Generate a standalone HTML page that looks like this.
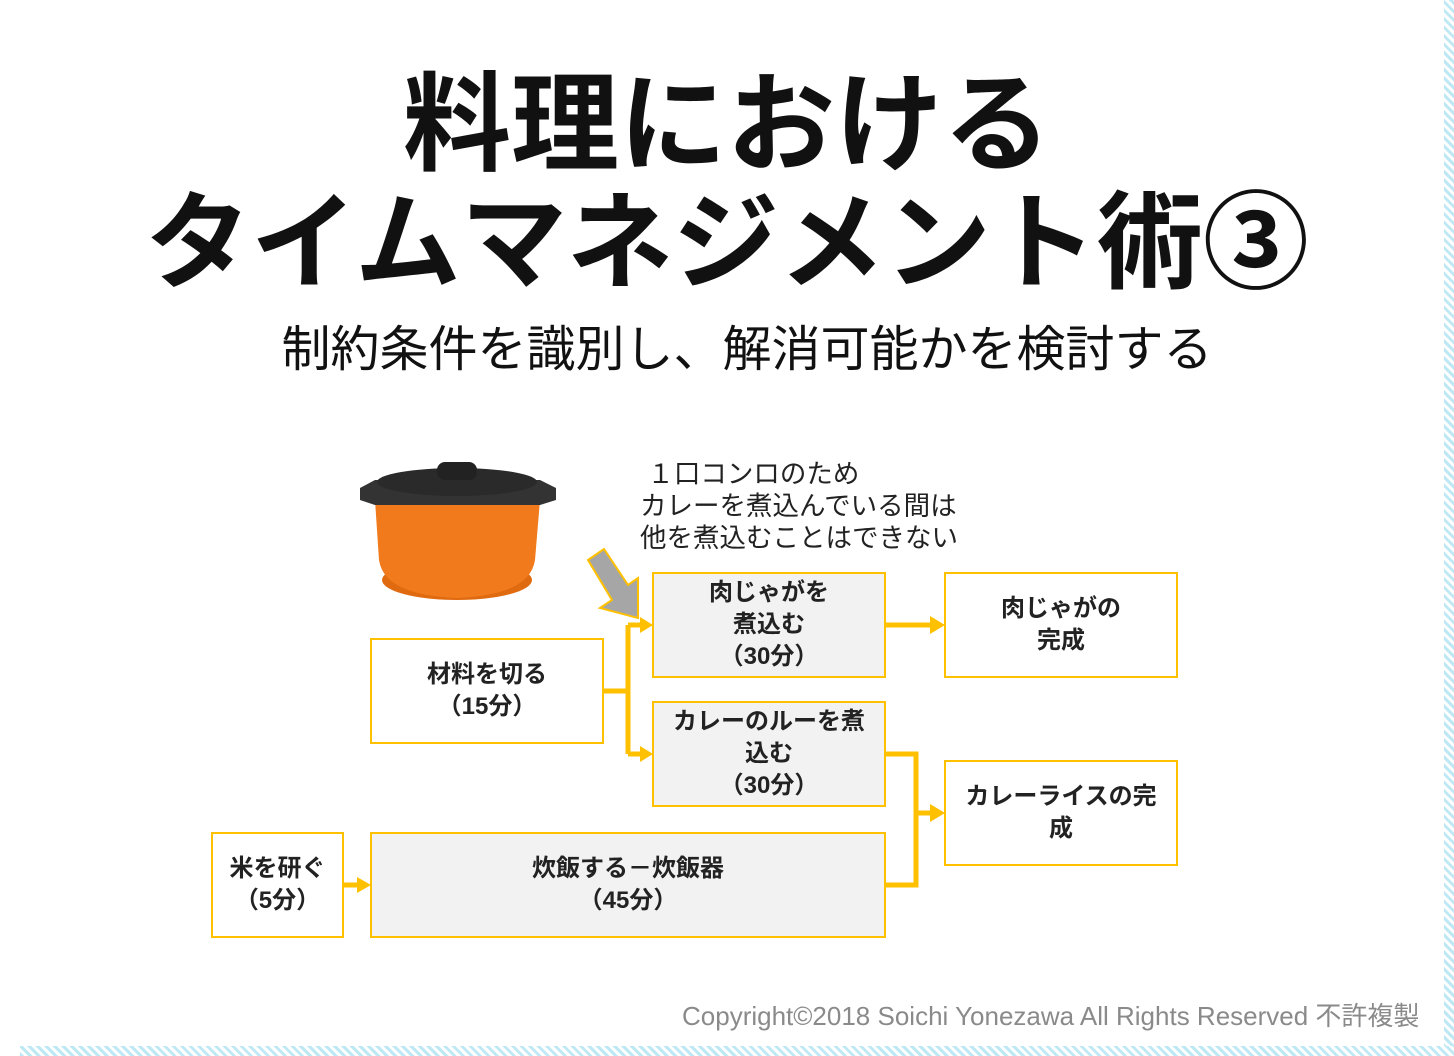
<!DOCTYPE html>
<html><head><meta charset="utf-8"><style>
body{margin:0;width:1454px;height:1056px;background:#fff;position:relative;overflow:hidden;font-family:"Liberation Sans","Noto Sans CJK JP",sans-serif;}
.t{position:absolute;left:0;width:1454px;text-align:center;font-weight:bold;color:#111;white-space:nowrap}
.b{position:absolute;box-sizing:border-box;border:2px solid #ffc000;display:flex;align-items:center;justify-content:center;text-align:center;font-weight:bold;font-size:24px;line-height:32px;color:#222}
.g{background:#f2f2f2}
.hat{position:absolute;background:repeating-linear-gradient(45deg,#bfe8f5 0 3px,#fff 3px 6px)}
</style></head><body>
<div class="hat" style="left:1444px;top:0;width:10px;height:1056px"></div>
<div class="hat" style="left:20px;top:1046px;width:1434px;height:10px"></div>
<div class="t" style="top:66px;font-size:108px;line-height:118px;left:0px">料理における</div>
<div class="t" style="top:186px;font-size:106px;line-height:116px">タイムマネジメント術③</div>
<div class="t" style="top:320px;font-size:49px;line-height:60px;font-weight:normal;left:20px">制約条件を識別し、解消可能かを検討する</div>
<div style="position:absolute;left:640px;top:458px;font-size:26.5px;line-height:32px;color:#222">&nbsp;１口コンロのため<br>カレーを煮込んでいる間は<br>他を煮込むことはできない</div>
<svg style="position:absolute;left:0;top:0" width="1454" height="1056">
<g>
<ellipse cx="457" cy="580" rx="75" ry="20" fill="#e06a10"/>
<path d="M375 500 L540 500 L535 560 Q530 595 457 598 Q384 595 379 560 Z" fill="#f07a1c"/>
<path d="M360 488 L375 480 L540 480 L556 488 L556 500 L540 505 L375 505 L360 500Z" fill="#333"/>
<ellipse cx="457" cy="482" rx="80" ry="14" fill="#2a2a2a"/>
<rect x="437" y="462" width="40" height="18" rx="8" fill="#222"/>
</g>
<polygon points="588,560 604,549 628,585 638,578 638,618 600,608 612,600" fill="#a6a6a6" stroke="#ffc000" stroke-width="2"/>
<g stroke="#ffc000" stroke-width="5" fill="none">
<path d="M604 691 H628 M628 625 V754 M628 625 H642 M628 754 H642"/>
<path d="M886 625 H934"/>
<path d="M886 754 H916 V885 H886 M916 813 H934"/>
<path d="M344 885 H360"/>
</g>
<g fill="#ffc000">
<polygon points="640,617 653,625 640,633"/><polygon points="640,746 653,754 640,762"/>
<polygon points="930,616 945,625 930,634"/><polygon points="930,804 945,813 930,822"/>
<polygon points="357,877 371,885 357,893"/>
</g>
</svg>
<div class="b" style="left:370px;top:638px;width:234px;height:106px">材料を切る<br>（15分）</div>
<div class="b g" style="left:652px;top:572px;width:234px;height:106px">肉じゃがを<br>煮込む<br>（30分）</div>
<div class="b g" style="left:652px;top:701px;width:234px;height:106px">カレーのルーを煮<br>込む<br>（30分）</div>
<div class="b" style="left:944px;top:572px;width:234px;height:106px">肉じゃがの<br>完成</div>
<div class="b" style="left:944px;top:760px;width:234px;height:106px">カレーライスの完<br>成</div>
<div class="b" style="left:211px;top:832px;width:133px;height:106px">米を研ぐ<br>（5分）</div>
<div class="b g" style="left:370px;top:832px;width:516px;height:106px">炊飯する－炊飯器<br>（45分）</div>
<div style="position:absolute;left:682px;top:996px;font-size:26px;color:#8a8a8a;white-space:nowrap">Copyright©2018 Soichi Yonezawa All Rights Reserved 不許複製</div>
</body></html>
